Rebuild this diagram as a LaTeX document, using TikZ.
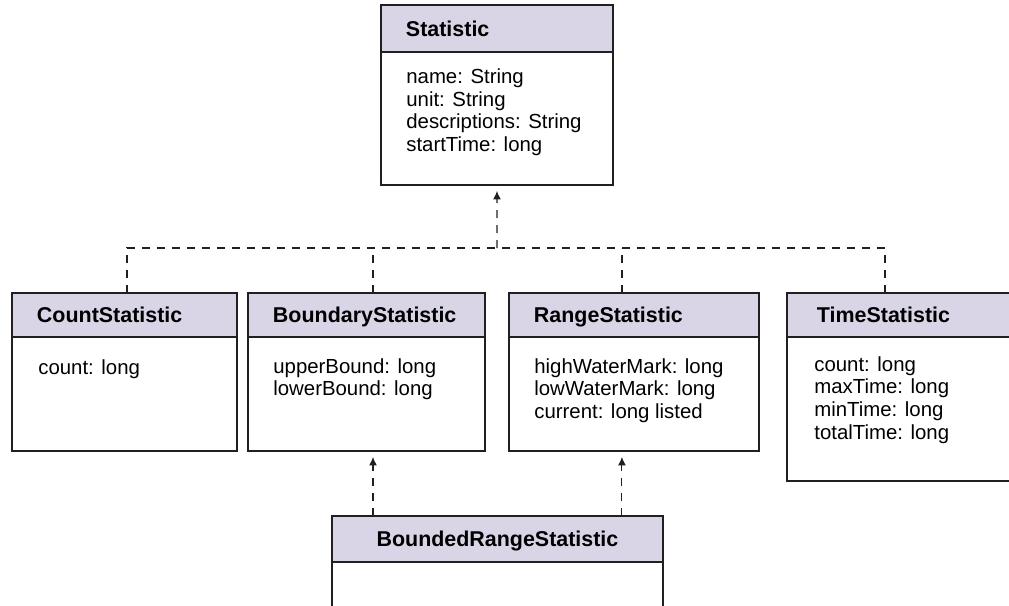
\documentclass[tikz,border=0pt]{standalone}
\usepackage{fontspec}
\setmainfont{Liberation Sans}
\usetikzlibrary{positioning,arrows.meta}
\definecolor{headfill}{HTML}{D9D5E6}
\definecolor{boxline}{HTML}{231F20}
\tikzset{
  head/.style={draw=boxline, line width=1.1pt, fill=headfill, anchor=north west,
    outer sep=0pt, inner xsep=0.5cm, inner ysep=0pt, align=left,
    text height=0.96em, text depth=0.1em,
    font=\bfseries\fontsize{12.2}{14}\selectfont},
  body/.style={draw=boxline, line width=1.1pt, fill=white, anchor=north west,
    outer sep=0pt, inner sep=0pt},
  attr/.style={inner sep=0pt, align=left, font=\fontsize{11.6}{12.9}\selectfont},
  dep/.style={boxline, line width=0.6pt, dash pattern=on 0.16cm off 0.14cm},
  inh/.style={dep, -{Latex[length=0.17cm,width=0.16cm]}, shorten >=0.12cm}
}
\begin{document}
\begin{tikzpicture}[x=0.02cm,y=-0.02cm]
\useasboundingbox (0,0) rectangle (1009,606);
\clip (0,0) rectangle (1009,606);
% top class
\node[head, text width=3.64cm, minimum height=0.94cm] (stat) at (381,5) {Statistic};
\node[body, minimum width=4.64cm, minimum height=2.66cm] (statb) at (stat.south west) {};
\node[attr, below right=0.33cm and 0.5cm of statb.north west] (stata)
  {name: String\\unit: String\\descriptions: String\\startTime: long};
% subclasses
\node[head, text width=3.5cm, minimum height=0.88cm] (cnt) at (12,293) {CountStatistic};
\node[body, minimum width=4.5cm, minimum height=2.28cm] (cntb) at (cnt.south west) {};
\node[attr, below right=0.44cm and 0.52cm of cntb.north west] (cnta) {count: long};
\node[head, text width=3.74cm, minimum height=0.88cm] (bnd) at (248,293) {BoundaryStatistic};
\node[body, minimum width=4.74cm, minimum height=2.28cm] (bndb) at (bnd.south west) {};
\node[attr, below right=0.42cm and 0.5cm of bndb.north west] (bnda)
  {upperBound: long\\lowerBound: long};
\node[head, text width=4.0cm, minimum height=0.88cm] (rng) at (509,293) {RangeStatistic};
\node[body, minimum width=5.0cm, minimum height=2.28cm] (rngb) at (rng.south west) {};
\node[attr, below right=0.42cm and 0.5cm of rngb.north west] (rnga)
  {highWaterMark: long\\lowWaterMark: long\\current: long listed};
\node[head, text width=4.0cm, minimum height=0.88cm, inner xsep=0.6cm] (tim) at (787,293) {TimeStatistic};
\node[body, minimum width=5.2cm, minimum height=2.88cm] (timb) at (tim.south west) {};
\node[attr, below right=0.38cm and 0.54cm of timb.north west] (tima)
  {count: long\\maxTime: long\\minTime: long\\totalTime: long};
% class with two parents
\node[head, text width=5.62cm, minimum height=0.92cm, align=center] (brs) at (332,516) {BoundedRangeStatistic};
\node[body, minimum width=6.62cm, minimum height=1.6cm] (brsb) at (brs.south west) {};
% dependencies
\coordinate (bus) at (497,248);
\draw[dep] ([xshift=0.05cm]cnt.north) |- (bus) -| ([xshift=-0.64cm]tim.north);
\draw[dep] ([xshift=0.13cm]bnd.north) -- ([xshift=0.13cm]bnd.north |- bus);
\draw[dep] ([xshift=-0.24cm]rng.north) -- ([xshift=-0.24cm]rng.north |- bus);
\draw[inh] (bus) -- (statb.south);
\draw[inh] ([xshift=0.82cm]brs.north west) -- ([xshift=0.82cm]brs.north west |- bndb.south);
\draw[inh] ([xshift=5.8cm]brs.north west) -- ([xshift=5.8cm]brs.north west |- rngb.south);
\end{tikzpicture}
\end{document}
